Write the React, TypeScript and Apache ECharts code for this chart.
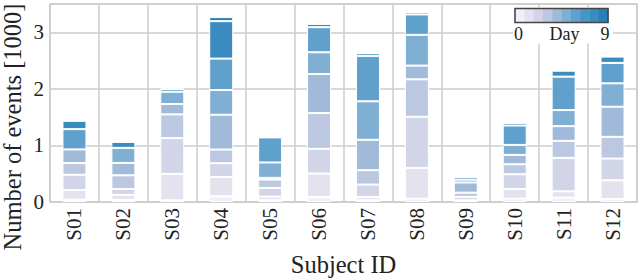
import React, { useEffect, useRef } from "react";
import * as echarts from "echarts";

// Subjects (x categories)
const subjects = ["S01", "S02", "S03", "S04", "S05", "S06", "S07", "S08", "S09", "S10", "S11", "S12"];

// Y ticks (thousands of events)
const yTickValues = [0, 1, 2, 3];

// Day colours (0 .. 9)
const dayColors = [
  "#f2f0f7", "#e4e2ef", "#d2d4e8", "#bcc8e1", "#a2bada",
  "#80afd4", "#5fa0cc", "#4896c6", "#3a8cc0", "#2b7fb8",
];

// Number of events per day, in thousands, per subject S01..S12
const day0 = [0.041, 0.038, 0.030, 0.100, 0.030, 0.089, 0.030, 0.059, 0.030, 0.059, 0.077, 0.053];
const day1 = [0.171, 0.089, 0.467, 0.343, 0.065, 0.414, 0.059, 0.544, 0.000, 0.171, 0.112, 0.331];
const day2 = [0.269, 0.103, 0.632, 0.242, 0.154, 0.437, 0.219, 0.904, 0.060, 0.260, 0.591, 0.384];
const day3 = [0.207, 0.242, 0.420, 0.242, 0.148, 0.632, 0.254, 0.662, 0.075, 0.177, 0.301, 0.384];
const day4 = [0.242, 0.219, 0.183, 0.615, 0.030, 0.691, 0.538, 0.242, 0.180, 0.165, 0.260, 0.532];
const day5 = [0.000, 0.266, 0.219, 0.437, 0.272, 0.384, 0.680, 0.544, 0.050, 0.177, 0.284, 0.414];
const day6 = [0.358, 0.000, 0.000, 0.556, 0.443, 0.443, 0.804, 0.361, 0.000, 0.343, 0.591, 0.361];
const day7 = [0.000, 0.000, 0.000, 0.000, 0.000, 0.000, 0.000, 0.000, 0.045, 0.000, 0.000, 0.000];
const day8 = [0.148, 0.106, 0.047, 0.662, 0.000, 0.059, 0.047, 0.041, 0.020, 0.047, 0.106, 0.112];
const day9 = [0.000, 0.000, 0.000, 0.071, 0.000, 0.000, 0.000, 0.000, 0.000, 0.000, 0.000, 0.000];

const days = [day0, day1, day2, day3, day4, day5, day6, day7, day8, day9];
const legendLabels = ["0", "Day", "9"];
const yTitle = "Number of events [1000]";
const xTitle = "Subject ID";

const FONT = "'Liberation Serif', 'Times New Roman', Times, serif";
const TEXT = "#222222";
const GRID = "#cccccc";

export default function App() {
  const ref = useRef<HTMLDivElement>(null);

  useEffect(() => {
    document.body.style.margin = "0";
    const chart = echarts.init(ref.current!, null, { renderer: "svg" });

    const series = days.map((vals, i) => ({
      name: `Day ${i}`,
      type: "bar",
      stack: "total",
      data: vals,
      barWidth: 24,
      silent: true,
      itemStyle: { color: dayColors[i], borderColor: "#ffffff", borderWidth: 1 },
    }));

    const cbX = 515;
    const cbY = 8.5;
    const cbW = 93;
    const cbH = 14;
    const cellW = cbW / dayColors.length;

    const graphic: any[] = [
      { type: "rect", z: 10, shape: { x: 513, y: 7.5, width: 100, height: 36 }, style: { fill: "#ffffff" } },
      ...dayColors.map((c, i) => ({
        type: "rect",
        z: 11,
        shape: { x: cbX + i * cellW, y: cbY, width: cellW + 0.4, height: cbH },
        style: { fill: c },
      })),
      {
        type: "rect",
        z: 12,
        shape: { x: cbX, y: cbY, width: cbW, height: cbH },
        style: { fill: "none", stroke: "#454545", lineWidth: 1.6 },
      },
      {
        type: "text", z: 12, x: 518.5, y: 34,
        style: { text: legendLabels[0], fontSize: 18, fontFamily: FONT, fill: TEXT, textAlign: "center", textVerticalAlign: "middle" },
      },
      {
        type: "text", z: 12, x: 564.5, y: 34,
        style: { text: legendLabels[1], fontSize: 18, fontFamily: FONT, fill: TEXT, textAlign: "center", textVerticalAlign: "middle" },
      },
      {
        type: "text", z: 12, x: 605, y: 34,
        style: { text: legendLabels[2], fontSize: 18, fontFamily: FONT, fill: TEXT, textAlign: "center", textVerticalAlign: "middle" },
      },
      {
        type: "text", z: 12, x: 12.5, y: 127, rotation: Math.PI / 2,
        style: { text: yTitle, fontSize: 24.5, fontFamily: FONT, fill: TEXT, textAlign: "center", textVerticalAlign: "middle" },
      },
    ];

    chart.setOption({
      animation: false,
      backgroundColor: "#ffffff",
      grid: {
        left: 50,
        right: 3,
        top: 4,
        bottom: 77,
        containLabel: false,
        outerBoundsMode: "none",
        show: true,
        borderColor: GRID,
        borderWidth: 1.5,
        backgroundColor: "transparent",
      },
      xAxis: {
        type: "category",
        data: subjects,
        axisLine: { show: false },
        axisTick: { show: false },
        splitLine: { show: true, lineStyle: { color: GRID, width: 1.5 } },
        axisLabel: { rotate: 90, fontSize: 21, fontFamily: FONT, color: TEXT, margin: 6 },
        name: xTitle,
        nameLocation: "middle",
        nameGap: 50,
        nameTextStyle: { fontSize: 24.5, fontFamily: FONT, color: TEXT },
      },
      yAxis: {
        type: "value",
        min: 0,
        max: 3.5,
        interval: 1,
        axisLine: { show: false },
        axisTick: { show: false },
        splitLine: { show: true, lineStyle: { color: GRID, width: 1.5 } },
        axisLabel: {
          fontSize: 21,
          fontFamily: FONT,
          color: TEXT,
          margin: 6,
          showMaxLabel: false,
          formatter: (v: number) => (yTickValues.includes(v) ? String(v) : ""),
        },
      },
      series,
      graphic,
    });

    return () => chart.dispose();
  }, []);

  return <div ref={ref} style={{ width: 640, height: 279 }} />;
}
